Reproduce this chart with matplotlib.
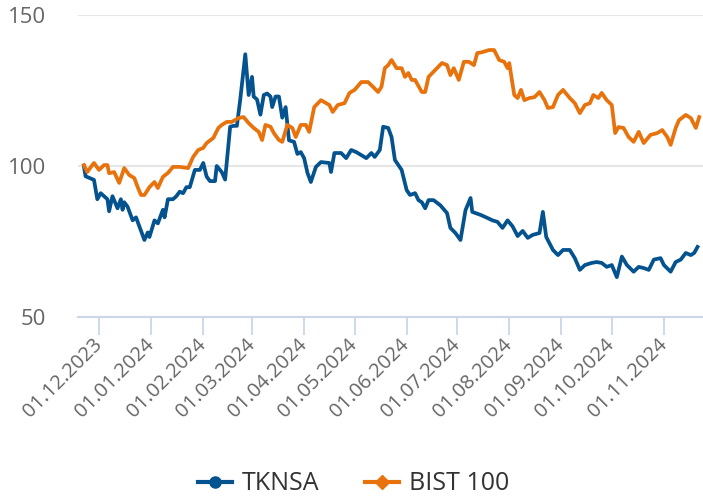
import numpy as np
import matplotlib
matplotlib.use("Agg")
import matplotlib.pyplot as plt
import matplotlib.dates as mdates
from matplotlib.lines import Line2D

plt.rcParams['font.family'] = ['Open Sans', 'DejaVu Sans']

series_names = ["TKNSA", "BIST 100"]
series_colors = ["#04538f", "#e8720c"]

tknsa_dates = ['2023-11-22','2023-11-23','2023-11-28','2023-11-30','2023-12-02','2023-12-06','2023-12-07','2023-12-09','2023-12-12','2023-12-14','2023-12-15','2023-12-16','2023-12-18','2023-12-21','2023-12-23','2023-12-28','2023-12-30','2023-12-31','2024-01-03','2024-01-05','2024-01-08','2024-01-09','2024-01-11','2024-01-14','2024-01-16','2024-01-18','2024-01-20','2024-01-22','2024-01-24','2024-01-27','2024-01-30','2024-02-01','2024-02-03','2024-02-05','2024-02-08','2024-02-09','2024-02-12','2024-02-14','2024-02-17','2024-02-19','2024-02-21','2024-02-23','2024-02-26','2024-02-28','2024-03-01','2024-03-02','2024-03-04','2024-03-06','2024-03-08','2024-03-10','2024-03-12','2024-03-13','2024-03-15','2024-03-17','2024-03-19','2024-03-21','2024-03-23','2024-03-26','2024-03-28','2024-03-30','2024-04-01','2024-04-03','2024-04-05','2024-04-08','2024-04-11','2024-04-16','2024-04-17','2024-04-19','2024-04-23','2024-04-26','2024-04-29','2024-05-02','2024-05-05','2024-05-08','2024-05-11','2024-05-13','2024-05-16','2024-05-18','2024-05-21','2024-05-23','2024-05-25','2024-05-29','2024-06-01','2024-06-03','2024-06-06','2024-06-08','2024-06-10','2024-06-12','2024-06-14','2024-06-17','2024-06-21','2024-06-25','2024-06-27','2024-06-30','2024-07-03','2024-07-06','2024-07-09','2024-07-10','2024-07-15','2024-07-19','2024-07-22','2024-07-25','2024-07-28','2024-07-31','2024-08-03','2024-08-06','2024-08-09','2024-08-12','2024-08-15','2024-08-19','2024-08-21','2024-08-23','2024-08-27','2024-08-30','2024-09-02','2024-09-06','2024-09-09','2024-09-12','2024-09-15','2024-09-19','2024-09-22','2024-09-25','2024-09-28','2024-10-01','2024-10-04','2024-10-07','2024-10-10','2024-10-14','2024-10-17','2024-10-20','2024-10-23','2024-10-26','2024-10-30','2024-11-01','2024-11-05','2024-11-08','2024-11-11','2024-11-14','2024-11-17','2024-11-19','2024-11-21']
tknsa_values = [100,96.6,95.4,89,91,89,85,90,86,89,85.5,88,86.5,82,83,75.5,78,76.5,82,81,85.5,83,89,89,90,91.5,91,93,93,98.7,98.7,101,96.5,95,95,100,98,95.5,113,113.3,113.3,122,137,123.5,129.5,123,122,117,123.5,124,123,119.5,123,123,116,119.5,108.5,108,104,104.6,102.6,97.7,94.7,99.7,101.3,101,98,104.3,104.3,102.6,105.3,104.6,103.6,102.6,104.3,103,105.3,113,112.6,109.6,102,98.7,92,90.4,91,88.7,88,86,88.7,88.7,87,84.4,79.5,77.8,75.5,85.4,89.4,84.8,83.8,82.8,82,81.5,79.5,82,80,76.8,78.5,76.2,77.2,77.8,84.8,76.5,72.2,70.5,72.2,72.2,69.5,65.6,67.2,67.9,68.2,67.9,66.6,67.2,63.2,70,67.2,65,66.6,66.2,65.6,69,69.5,67.2,65,68.2,69,71.2,70.5,71.2,73.2]

bist_dates = ['2023-11-22','2023-11-24','2023-11-27','2023-11-28','2023-12-01','2023-12-04','2023-12-06','2023-12-07','2023-12-10','2023-12-13','2023-12-16','2023-12-19','2023-12-22','2023-12-24','2023-12-26','2023-12-28','2023-12-31','2024-01-03','2024-01-05','2024-01-08','2024-01-11','2024-01-14','2024-01-18','2024-01-23','2024-01-26','2024-01-29','2024-02-01','2024-02-03','2024-02-07','2024-02-10','2024-02-12','2024-02-15','2024-02-18','2024-02-22','2024-02-25','2024-02-28','2024-03-02','2024-03-05','2024-03-07','2024-03-09','2024-03-12','2024-03-14','2024-03-17','2024-03-19','2024-03-22','2024-03-25','2024-03-27','2024-03-30','2024-04-02','2024-04-04','2024-04-07','2024-04-11','2024-04-16','2024-04-18','2024-04-21','2024-04-25','2024-04-28','2024-05-01','2024-05-05','2024-05-09','2024-05-12','2024-05-15','2024-05-17','2024-05-19','2024-05-21','2024-05-23','2024-05-26','2024-05-29','2024-05-31','2024-06-02','2024-06-04','2024-06-06','2024-06-10','2024-06-12','2024-06-14','2024-06-18','2024-06-22','2024-06-25','2024-06-27','2024-06-29','2024-07-02','2024-07-05','2024-07-08','2024-07-11','2024-07-13','2024-07-16','2024-07-20','2024-07-23','2024-07-26','2024-07-29','2024-07-31','2024-08-01','2024-08-04','2024-08-06','2024-08-08','2024-08-10','2024-08-13','2024-08-16','2024-08-19','2024-08-22','2024-08-24','2024-08-27','2024-08-30','2024-09-02','2024-09-06','2024-09-09','2024-09-12','2024-09-15','2024-09-18','2024-09-20','2024-09-23','2024-09-25','2024-09-28','2024-10-01','2024-10-03','2024-10-05','2024-10-08','2024-10-11','2024-10-14','2024-10-17','2024-10-20','2024-10-24','2024-10-28','2024-10-31','2024-11-03','2024-11-05','2024-11-08','2024-11-10','2024-11-14','2024-11-17','2024-11-20','2024-11-22']
bist_values = [100.3,98,100.3,101,98.7,100.3,100.3,97.6,98,94.4,99.3,97,96,93,90.4,90.4,93,94.7,92.7,96.4,97.7,99.7,99.7,99.3,103,105.3,106,107.6,109.3,112.6,113.6,114.6,114.6,115.9,116.2,114.2,112.6,111.3,108.6,113.6,113,110.9,108.6,108,113.6,112.6,109.6,113.6,113.6,111.3,119.5,121.8,120.2,117.9,120.2,120.8,124.2,125.2,127.8,127.8,126.2,124.5,126.2,132.4,133.4,135.1,132.4,132.4,129.5,130.8,128.5,128.5,124.5,124.5,129.5,131.8,134.1,133.4,130.1,132.4,128.5,134.5,134.5,133.4,137.4,137.7,138.4,138.4,135.1,134.5,132.4,134.1,123.5,122.5,125.2,121.8,122.5,122.8,124.5,121.8,119.2,119.5,123.5,125.2,122.5,120.8,117.5,120.2,120.8,123.5,122.5,124.2,121.8,120.2,110.9,112.9,112.6,109.6,108,111.3,107.6,110.3,110.9,111.9,109.6,107,112.6,115.2,116.9,115.9,112.6,116.2]

y_ticks = [50, 100, 150]

W, H = 703, 499
fig = plt.figure(figsize=(W / 100, H / 100), dpi=100)
ax = fig.add_axes([78 / W, 1 - 317 / H, (W - 78) / W, (317 - 15) / H])

td = np.array(tknsa_dates, dtype='datetime64[D]')
bd = np.array(bist_dates, dtype='datetime64[D]')
ax.plot(td, tknsa_values, color=series_colors[0], lw=2.7, solid_joinstyle='round', zorder=3)
ax.plot(bd, bist_values, color=series_colors[1], lw=2.7, solid_joinstyle='round', zorder=3)

ax.set_ylim(50, 150)
ax.set_yticks(y_ticks)
ax.set_xlim(np.datetime64('2023-11-18T12:00'), np.datetime64('2024-11-24T06:00'))

ax.xaxis.set_major_locator(mdates.MonthLocator(bymonthday=1))
ax.xaxis.set_major_formatter(mdates.DateFormatter('%d.%m.%Y'))

for s in ['top', 'right', 'left']:
    ax.spines[s].set_visible(False)
ax.spines['bottom'].set_color('#ccd6eb')
ax.spines['bottom'].set_linewidth(1.5)

ax.grid(axis='y', color='#e6e6e6', lw=1.5, zorder=0)
ax.grid(axis='x', visible=False)
ax.set_axisbelow(True)

ax.tick_params(axis='y', length=0, pad=23, labelsize=16, labelcolor='#666666')
ax.tick_params(axis='x', length=13, width=1.3, color='#ccd6eb', direction='out',
               pad=5, labelsize=14.5, labelcolor='#666666')
for lbl in ax.get_xticklabels():
    lbl.set_rotation(45)
    lbl.set_ha('right')
    lbl.set_va('center')
    lbl.set_rotation_mode('anchor')
for lbl in ax.get_yticklabels():
    lbl.set_ha('right')

handles = [
    Line2D([], [], color=series_colors[0], lw=3, marker='o', markersize=8),
    Line2D([], [], color=series_colors[1], lw=3, marker='D', markersize=7),
]
fig.legend(handles, series_names, loc='center', bbox_to_anchor=(0.503, 1 - 484 / H),
           ncol=2, frameon=False, fontsize=18, handlelength=1.36, handletextpad=0.4,
           columnspacing=1.8, labelcolor='#333333')

fig.savefig('out.png', dpi=100)
